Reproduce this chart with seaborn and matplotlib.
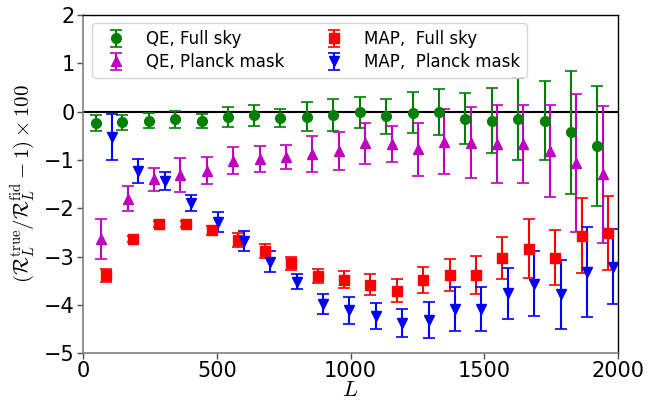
import numpy as np
import pandas as pd
import matplotlib
matplotlib.use("Agg")
import matplotlib.pyplot as plt
import seaborn as sns

# Bin centres (L) and per-series horizontal offsets
L_centers = [48, 147, 245, 344, 443, 541, 640, 738, 837, 936,
             1034, 1133, 1232, 1330, 1429, 1527, 1626, 1725, 1823, 1922]
shift_qe_full, shift_qe_mask, shift_map_full, shift_map_mask = 0, 20, 40, 60

qe_full = [-0.24, -0.22, -0.19, -0.16, -0.19, -0.11, -0.08, -0.13, -0.11, -0.07,
           -0.01, -0.10, -0.02, -0.01, -0.15, -0.19, -0.16, -0.19, -0.43, -0.71]
qe_full_err = [0.16, 0.16, 0.155, 0.18, 0.15, 0.20, 0.21, 0.19, 0.30, 0.34,
               0.32, 0.37, 0.43, 0.47, 0.53, 0.67, 0.85, 0.82, 1.28, 1.25]

qe_mask = [-2.64, -1.80, -1.40, -1.31, -1.22, -1.02, -0.98, -0.94, -0.88, -0.81,
           -0.66, -0.67, -0.78, -0.62, -0.64, -0.67, -0.67, -0.81, -1.07, -1.30]
qe_mask_err = [0.42, 0.25, 0.24, 0.35, 0.28, 0.28, 0.26, 0.24, 0.37, 0.39,
               0.42, 0.37, 0.55, 0.67, 0.74, 0.80, 0.80, 0.95, 1.43, 1.42]

map_full = [-3.39, -2.64, -2.32, -2.33, -2.46, -2.66, -2.89, -3.14, -3.40, -3.48,
            -3.58, -3.71, -3.49, -3.38, -3.38, -3.03, -2.84, -3.02, -2.57, -2.51]
map_full_err = [0.14, 0.06, 0.06, 0.06, 0.09, 0.15, 0.15, 0.13, 0.14, 0.18,
                0.22, 0.24, 0.27, 0.33, 0.40, 0.43, 0.61, 0.56, 0.78, 0.76]

map_mask = [-0.52, -1.23, -1.44, -1.89, -2.28, -2.68, -3.11, -3.52, -3.98, -4.11,
            -4.23, -4.37, -4.32, -4.09, -4.09, -3.76, -3.56, -3.78, -3.32, -3.21]
map_mask_err = [0.48, 0.25, 0.19, 0.17, 0.21, 0.20, 0.22, 0.16, 0.20, 0.28,
                0.26, 0.29, 0.37, 0.45, 0.45, 0.53, 0.68, 0.71, 0.93, 0.78]

labels = ["QE, Full sky", "QE, Planck mask", "MAP,  Full sky", "MAP,  Planck mask"]
x_ticks = [0, 500, 1000, 1500, 2000]
y_ticks = [-5, -4, -3, -2, -1, 0, 1, 2]

sns.set_theme(style="white", color_codes=False,
              rc={"text.color": "black", "axes.labelcolor": "black",
                  "xtick.color": "black", "ytick.color": "black"})
plt.rcParams["font.family"] = ["DejaVu Sans"]
plt.rcParams["mathtext.fontset"] = "cm"

fig = plt.figure(figsize=(6.48, 4.05), dpi=100)
ax = fig.add_axes([0.128, 0.128, 0.826, 0.835])

Lc = np.array(L_centers, dtype=float)
series = [
    (Lc + shift_qe_full, qe_full, qe_full_err, "o", "#008000", labels[0]),
    (Lc + shift_qe_mask, qe_mask, qe_mask_err, "^", "#bf00bf", labels[1]),
    (Lc + shift_map_full, map_full, map_full_err, "s", "#ff0000", labels[2]),
    (Lc + shift_map_mask, map_mask, map_mask_err, "v", "#0000ff", labels[3]),
]

ax.axhline(0, color="black", lw=1.5, zorder=1)
for x, y, e, m, c, lab in series:
    df = pd.DataFrame({"L": x, "y": y, "e": e})
    ax.errorbar(df["L"], df["y"], yerr=df["e"], fmt=m, color=c, ms=7,
                capsize=4, elinewidth=1.5, capthick=1.2, label=lab, zorder=2)

ax.set_xlim(0, 2000)
ax.set_ylim(-5, 2)
ax.set_xticks(x_ticks)
ax.set_yticks(y_ticks)
ax.tick_params(axis="both", labelsize=15, length=4, width=1, direction="out",
               left=True, bottom=True, color="0.3", labelcolor="black", pad=2)
ax.set_xlabel(r"$L$", fontsize=16, labelpad=-1)
ax.set_ylabel(r"$(\mathcal{R}_L^{\rm true}/\mathcal{R}_L^{\rm fid}-1)\times 100$",
              fontsize=15, labelpad=4)

for side in ["left", "bottom"]:
    ax.spines[side].set_color("0.5")
    ax.spines[side].set_linewidth(1.2)
for side in ["top", "right"]:
    ax.spines[side].set_color("black")
    ax.spines[side].set_linewidth(1.0)

ax.legend(ncol=2, loc="upper left", fontsize=12, frameon=True,
          bbox_to_anchor=(0.005, 0.995), borderaxespad=0.4, handletextpad=0.8,
          columnspacing=2.0, labelspacing=0.3, edgecolor="0.8", framealpha=0.8,
          fancybox=True)

fig.savefig("out.png", dpi=100)
